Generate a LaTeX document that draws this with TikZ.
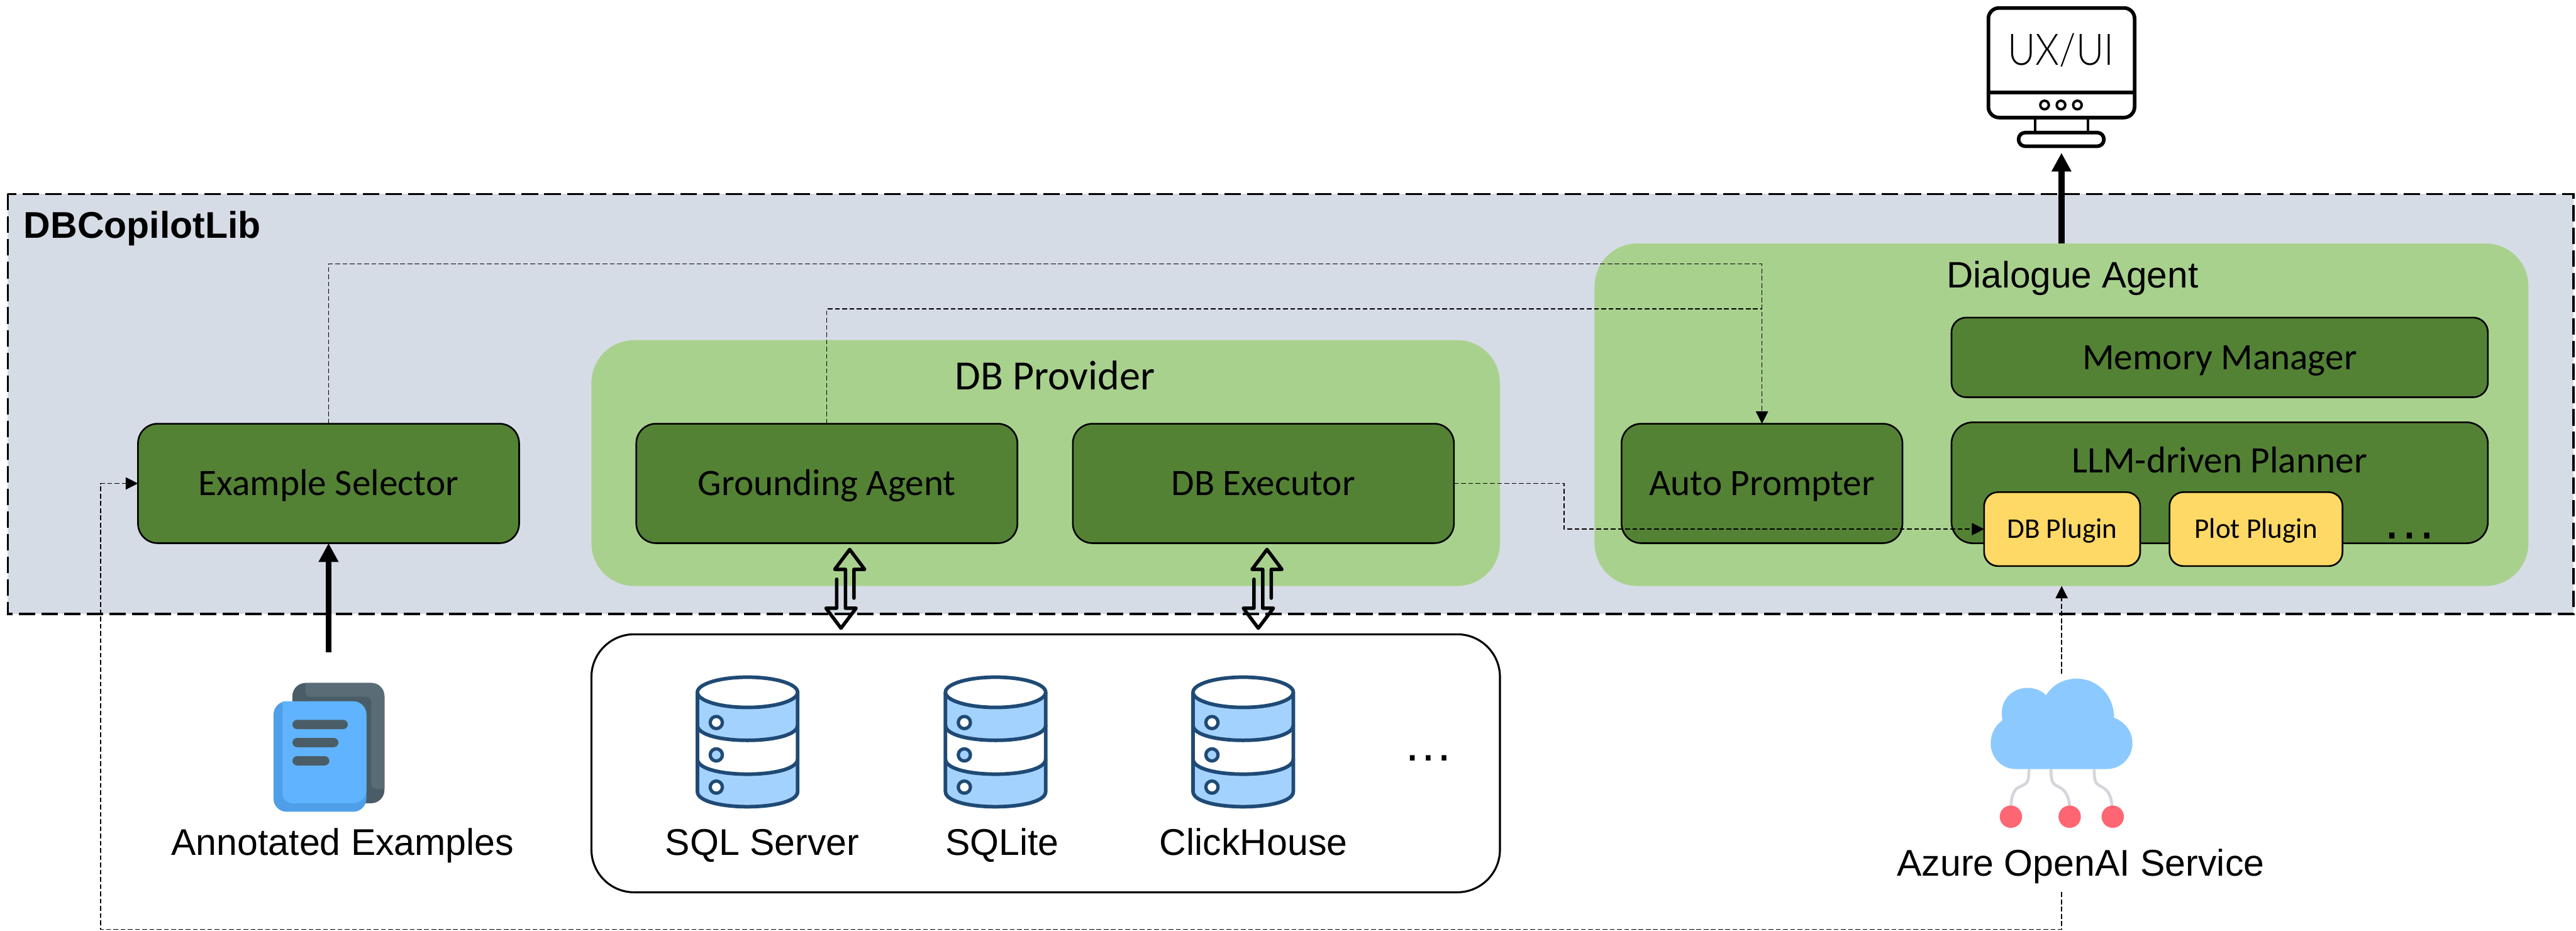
\documentclass[tikz,border=0pt]{standalone}
\usepackage{fontspec}
\setmainfont{Liberation Sans}
\newfontfamily\carlito{Carlito}
\newfontfamily\uilight{Lato Light}
\usetikzlibrary{arrows.meta}
\definecolor{libfill}{HTML}{D6DCE5}
\definecolor{groupgreen}{HTML}{A9D18E}
\definecolor{agentgreen}{HTML}{548235}
\definecolor{pluginyellow}{HTML}{FFD966}
\definecolor{dbline}{HTML}{1F4A75}
\definecolor{dbblue}{HTML}{A4D2FF}
\definecolor{docdark}{HTML}{4A5D66}
\definecolor{doclight}{HTML}{5A6D77}
\definecolor{pagedark}{HTML}{4F9FE8}
\definecolor{pagelight}{HTML}{60B4FF}
\definecolor{cloudblue}{HTML}{8CC9FF}
\definecolor{wiregray}{HTML}{D5D5DB}
\definecolor{pinred}{HTML}{FF6673}
\tikzset{
  libbox/.style={draw, fill=libfill, line width=1.3pt, dash pattern=on 10pt off 3.8pt},
  group/.style={fill=groupgreen, rounded corners=26pt, outer sep=0pt},
  agent/.style={draw, fill=agentgreen, line width=1pt, rounded corners=12pt, inner sep=0pt, outer sep=0pt, text height=19pt, text depth=4.4pt, font=\carlito\fontsize{22.7}{26}\selectfont},
  plugin/.style={draw, fill=pluginyellow, line width=1pt, rounded corners=8.5pt, inner sep=0pt, outer sep=0pt, text height=14pt, text depth=2.8pt, font=\carlito\fontsize{17.3}{20}\selectfont},
  title/.style={anchor=base, inner sep=0pt, font=\fontsize{22.6}{26}\selectfont},
  thinlink/.style={line width=0.5pt, dash pattern=on 2.9pt off 1.5pt},
  thinhead/.style={thinlink, -{Triangle[length=7.5pt, width=7.5pt]}},
  bigarrow/.style={line width=3.7pt, -{Triangle[length=11.4pt, width=11.4pt]}},
  dots/.style={inner sep=0pt},
  pics/dbicon/.style={code={
    \fill[dbblue] (-30.5,0) -- (-30.5,60.4) .. controls (-30.5,72.7) and (30.5,72.7) .. (30.5,60.4) -- (30.5,0) -- cycle;
    \fill[white] (-30.5,20) .. controls (-30.5,32.3) and (30.5,32.3) .. (30.5,20) -- (30.5,40.6) .. controls (30.5,52.9) and (-30.5,52.9) .. (-30.5,40.6) -- cycle;
    \draw[dbline, line width=2.2pt, fill=white] (0,0) ellipse[x radius=30.5, y radius=9.2];
    \draw[dbline, line width=2.2pt] (-30.5,0) -- (-30.5,60.4) .. controls (-30.5,72.7) and (30.5,72.7) .. (30.5,60.4) -- (30.5,0);
    \draw[dbline, line width=2.2pt] (-30.5,20) .. controls (-30.5,32.3) and (30.5,32.3) .. (30.5,20);
    \draw[dbline, line width=2.2pt] (-30.5,40.6) .. controls (-30.5,52.9) and (30.5,52.9) .. (30.5,40.6);
    \draw[dbline, line width=2pt, fill=white] (-19,18.4) circle[radius=3.7];
    \draw[dbline, line width=2pt, fill=dbblue] (-19,38.1) circle[radius=3.7];
    \draw[dbline, line width=2pt, fill=white] (-19,57.7) circle[radius=3.7];
  }},
  pics/hollowpair/.style={code={
    \draw[line width=2.1pt, line cap=round, line join=round] (2.6,29.6) -- (2.6,12.1) -- (9.1,12.1) -- (0,0) -- (-9.1,12.1) -- (-2.6,12.1) -- (-2.6,35.7) -- (3.9,35.7) -- (-5.3,47.9) -- (-14.4,35.7) -- (-7.9,35.7) -- (-7.9,18.1);
  }},
}
\begin{document}
\begin{tikzpicture}[x=1pt, y=-1pt]
  \useasboundingbox (0,0) rectangle (1568,566.2);
  \draw[libbox] (4.7,118) rectangle (1566.5,373.6);
  \node[anchor=base west, inner sep=0pt, font=\bfseries\fontsize{22.6}{26}\selectfont] (lib) at (14.3,145) {DBCopilotLib};

  % groups
  \node[group, minimum width=553pt, minimum height=149.6pt] (provider) at (636.5,281.8) {};
  \node[group, minimum width=568.4pt, minimum height=208.4pt] (dialogue) at (1254.8,252.4) {};
  \node[anchor=base, inner sep=0pt, font=\carlito\fontsize{25.3}{28}\selectfont] (providertext) at (642.2,237) {DB Provider};
  \node[anchor=base, inner sep=0pt, font=\fontsize{22.4}{26}\selectfont] (dialoguetext) at (1261.5,175) {Dialogue Agent};

  \node[agent, minimum width=232pt, minimum height=72.7pt] (selector) at (200,294.2) {Example Selector};
  \node[agent, minimum width=232pt, minimum height=72.7pt] (grounding) at (503.3,294.2) {Grounding Agent};
  \node[agent, minimum width=232pt, minimum height=72.7pt] (executor) at (769,294.2) {DB Executor};
  \node[agent, minimum width=171pt, minimum height=72.7pt] (prompter) at (1072.5,294.2) {Auto Prompter};
  \node[agent, rounded corners=9pt, minimum width=326.5pt, minimum height=48.5pt] (memory) at (1351.1,217.5) {Memory Manager};
  \node[agent, rounded corners=13pt, minimum width=326.5pt, minimum height=73.6pt] (planner) at (1351.1,293.8) {};
  \node[anchor=base, inner sep=0pt, font=\carlito\fontsize{22.7}{26}\selectfont] (plannertext) at (1351,287.6) {LLM-driven Planner};
  \node[plugin, minimum width=95pt, minimum height=45pt] (dbplugin) at (1255.2,322) {DB Plugin};
  \node[plugin, minimum width=105.3pt, minimum height=45pt] (plotplugin) at (1373.2,322) {Plot Plugin};
  \node[dots, font=\fontsize{33.6}{34}\selectfont] (plannerdots) at (1466.6,326) {…};

  % database box
  \node[draw, fill=white, line width=1.2pt, rounded corners=26pt, minimum width=553pt, minimum height=157pt, outer sep=0pt] (dbbox) at (636.5,464.5) {};
  \pic at (455,421.3) {dbicon};
  \pic at (606,421.3) {dbicon};
  \pic at (756.7,421.3) {dbicon};
  \node[title] (sqlserver) at (464,520.3) {SQL Server};
  \node[title] (sqlite) at (610,520.3) {SQLite};
  \node[title] (clickhouse) at (763,520.3) {ClickHouse};
  \node[dots, font=\fontsize{30.5}{31}\selectfont] (dbdots) at (869.4,461.4) {…};
  \pic at (517.2,334.4) {hollowpair};
  \pic at (771.2,334.4) {hollowpair};

  % examples icon
  \fill[docdark, rounded corners=8pt] (178,415.6) rectangle (234,488.8);
  \fill[doclight] (186,415.6) [rounded corners=8pt] -- (234,415.6) [rounded corners=0pt] -- (234,480) [rounded corners=3pt] -- (226,480) -- (226,424) -- (186,424) [rounded corners=0pt] -- cycle;
  \fill[pagedark, rounded corners=8pt] (166.5,426.8) rectangle (223,494);
  \fill[pagelight] (172,426.8) [rounded corners=8pt] -- (223,426.8) -- (223,488.8) [rounded corners=6pt] -- (172,488.8) [rounded corners=0pt] -- cycle;
  \fill[docdark, rounded corners=2.8pt] (178,438.1) rectangle (211.7,443.7);
  \fill[docdark, rounded corners=2.8pt] (178,449.1) rectangle (206,454.7);
  \fill[docdark, rounded corners=2.8pt] (178,460.2) rectangle (200.5,465.8);
  \node[title] (annotated) at (208.6,520.4) {Annotated Examples};
  \coordinate (annotout) at (200,397);

  % cloud icon
  \foreach \xa/\xm/\xb/\sgn in {1235/1229.5/1224/-1, 1248.4/1252.8/1259.8/1, 1274.7/1279/1285.6/1}
    \draw[wiregray, line width=1.8pt] (\xa,468) .. controls (\xa,476) and (\xa+\sgn,477) .. (\xm,478.7) .. controls (\xm+\sgn*4,480.5) and (\xb-\sgn*0.5,484) .. (\xb,491);
  \fill[cloudblue] (1227,468) -- (1282.4,468) .. controls (1291,468) and (1298,461) .. (1298,452.4) .. controls (1298,445) and (1293.5,439.5) .. (1286.8,436.7) .. controls (1286.8,423.5) and (1277,413) .. (1264,413) .. controls (1256,413) and (1249,417) .. (1245.4,423.2) .. controls (1243,420.5) and (1239,418.6) .. (1234,418.6) .. controls (1225.5,418.6) and (1218.5,425) .. (1218.5,433.5) .. controls (1218.5,435.5) and (1218.6,437) .. (1218.8,438.4) .. controls (1214.5,441.5) and (1211.7,446.5) .. (1211.7,452.4) .. controls (1211.7,461) and (1218.5,468) .. (1227,468) -- cycle;
  \foreach \xa in {1224,1259.8,1286}
    \fill[pinred] (\xa,497) circle[radius=6.8];
  \node[title] (azure) at (1266.5,533) {Azure OpenAI Service};
  \coordinate (cloudout) at (1254.9,410);
  \coordinate (azureout) at (1254.9,543);

  % monitor icon
  \node[draw, line width=2.2pt, rounded corners=6.5pt, minimum width=89pt, minimum height=66.7pt, outer sep=0pt] (monitor) at (1254.8,38.2) {};
  \draw[line width=2.2pt] (monitor.west |- 0,56.4) -- (monitor.east |- 0,56.4);
  \foreach \xa in {1244.5,1254.5,1264.5}
    \draw[line width=1.5pt] (\xa,63.9) circle[radius=2.6];
  \draw[line width=1.5pt] (1238.6,71.6) -- (1238.6,80.7) (1270.8,71.6) -- (1270.8,80.7);
  \draw[line width=2.2pt, rounded corners=4pt] (1228.7,80.7) rectangle (1280.6,89);
  \node[inner sep=0pt, xscale=0.88, font=\uilight\fontsize{26.5}{28}\selectfont] (uxui) at (1254.5,30.6) {UX/UI};
  \coordinate (monitorin) at (1254.8,93);

  % connectors
  \draw[thinlink] (grounding.north) |- (prompter.north |- 0,188);
  \draw[thinhead] (selector.north) |- (prompter.north |- 0,160.7) -- (prompter.north);
  \draw[thinhead] (executor.east) -- ++(67,0) |- (dbplugin.west);
  \draw[thinhead] (cloudout) -- (cloudout |- dialogue.south);
  \draw[thinhead] (azureout) |- (61.3,565.6) |- (selector.west);
  \draw[bigarrow] (annotout) -- (selector.south);
  \draw[bigarrow] (dialogue.north -| monitorin) -- (monitorin);
\end{tikzpicture}
\end{document}
